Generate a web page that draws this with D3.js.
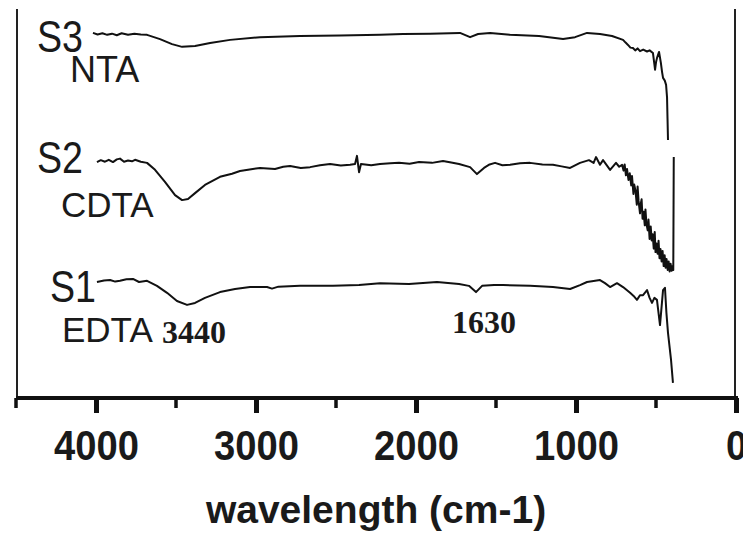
<!DOCTYPE html>
<html>

<head>
    <meta charset="utf-8">
    <style>
        body {
            margin: 0;
            background: #fff;
        }

        svg {
            display: block;
            overflow: hidden;
        }

        .lbl {
            font-family: Arial, 'Liberation Sans', sans-serif;
            fill: #1a1a1a;
        }

        .num {
            font-family: 'Times New Roman', 'Liberation Serif', serif;
            font-weight: bold;
            fill: #1a1a1a;
        }
    </style>
</head>

<body>
    <svg width="743" height="538"></svg>

    <script src="https://d3js.org/d3.v7.min.js"></script>

    <script>
        // wavenumber (cm-1), transmittance (a.u., offset stacked)
        let nta = [
            [4019, 94.1], [3990, 93.7], [3960, 94.0], [3930, 93.6], [3900, 93.9], [3870, 93.5],
            [3840, 94.0], [3800, 93.6], [3760, 93.9], [3720, 93.7], [3681, 93.6],
            [3600, 92.5], [3525, 91.2], [3462, 90.5], [3381, 90.7], [3287, 91.5], [3162, 92.3],
            [2975, 93.0], [2725, 93.3], [2475, 93.4], [2225, 93.6], [2081, 93.8], [1912, 93.9],
            [1725, 94.1], [1662, 93.0], [1612, 93.8], [1537, 94.1], [1412, 93.6], [1231, 93.3],
            [1081, 92.5], [1006, 93.0], [931, 94.1], [850, 93.8], [775, 93.3], [706, 92.3],
            [690, 91.6], [675, 91.0], [660, 90.3], [644, 90.2], [630, 89.6], [615, 90.1],
            [600, 89.4], [580, 89.8], [556, 89.3], [540, 89.6], [519, 88.9], [510, 86.0],
            [506, 84.6], [500, 86.5], [494, 87.6], [481, 89.2], [470, 86.5], [462, 84.0],
            [456, 82.5], [445, 81.8], [437, 80.7], [431, 77.5], [428, 72.0], [425, 66.5]
        ]

        let cdta = [
            [3994, 60.8], [3970, 61.3], [3944, 60.9], [3920, 61.4], [3894, 60.8], [3870, 61.5],
            [3850, 61.7], [3825, 60.9], [3800, 61.2], [3775, 61.0], [3756, 61.4], [3720, 60.9],
            [3681, 60.6], [3631, 58.8], [3569, 55.7], [3506, 52.3], [3462, 51.0], [3425, 51.3],
            [3381, 52.8], [3319, 54.9], [3225, 57.0], [3150, 57.8], [3100, 58.5], [3040, 58.9],
            [2975, 59.3], [2881, 59.0], [2830, 59.6], [2787, 59.8], [2720, 59.3], [2662, 59.5],
            [2600, 60.0], [2537, 60.3], [2470, 59.9], [2412, 60.1], [2381, 60.3], [2369, 62.4],
            [2356, 58.2], [2344, 60.3], [2280, 60.0], [2225, 60.3], [2160, 60.5], [2106, 60.6],
            [2040, 60.4], [1981, 60.8], [1900, 60.6], [1831, 61.1], [1780, 60.7], [1731, 60.3],
            [1662, 59.5], [1619, 57.7], [1575, 59.3], [1540, 60.2], [1506, 60.6], [1460, 60.0],
            [1412, 60.1], [1350, 60.5], [1287, 60.6], [1210, 60.2], [1144, 60.1], [1090, 59.7],
            [1037, 59.3], [975, 60.6], [919, 61.3], [890, 60.6], [875, 62.1], [850, 60.1],
            [831, 61.3], [787, 58.8], [750, 60.6], [730, 59.6], [712, 60.1], [703, 58.6],
            [696, 60.2], [688, 57.4], [681, 59.0], [672, 56.2], [664, 57.9], [655, 54.8],
            [650, 57.2], [641, 52.6], [636, 55.0], [628, 53.4], [620, 49.8], [615, 54.5],
            [609, 50.8], [600, 47.6], [596, 49.9], [590, 51.2], [584, 46.2], [578, 48.0],
            [570, 44.5], [566, 48.6], [560, 45.0], [552, 43.2], [547, 46.0], [540, 41.0],
            [533, 44.2], [527, 40.6], [521, 42.2], [514, 38.5], [508, 42.8], [503, 37.6],
            [497, 39.8], [490, 37.2], [484, 40.5], [478, 36.0], [472, 38.4], [465, 35.2],
            [459, 37.9], [452, 34.0], [446, 36.8], [440, 33.6], [434, 35.8], [427, 33.0],
            [421, 35.2], [415, 32.6], [409, 34.6], [402, 32.8], [396, 34.0], [392, 33.0],
            [389, 62.1]
        ]

        let edta = [
            [3994, 29.9], [3950, 30.3], [3912, 30.4], [3880, 30.0], [3850, 30.2], [3810, 30.6],
            [3769, 30.7], [3731, 29.9], [3681, 30.2], [3619, 28.9], [3556, 27.1], [3494, 25.0],
            [3431, 24.0], [3381, 24.5], [3319, 25.8], [3225, 27.3], [3131, 28.1], [3037, 28.6],
            [2931, 28.6], [2900, 28.2], [2860, 28.7], [2725, 28.9], [2519, 28.9], [2356, 29.1],
            [2225, 29.6], [2044, 29.4], [1869, 29.9], [1731, 29.4], [1669, 28.9], [1625, 27.3],
            [1587, 28.9], [1512, 29.1], [1456, 29.1], [1287, 28.9], [1144, 28.6], [1037, 28.1],
            [975, 29.1], [931, 29.9], [850, 30.4], [819, 29.6], [787, 28.6], [744, 29.6],
            [706, 28.6], [662, 27.1], [640, 26.3], [619, 25.3], [600, 26.5], [581, 26.5],
            [556, 27.8], [540, 25.8], [525, 24.5], [510, 25.8], [494, 25.3], [475, 18.8],
            [456, 27.8], [444, 28.4], [435, 22.0], [425, 16.8], [406, 9.8], [394, 3.9]
        ]

        let majorTicks = [4000, 3000, 2000, 1000, 0]
        let minorTicks = [4500, 3500, 2500, 1500, 500]

        let svg = d3.select("svg")

        let x = d3.scaleLinear()
            .domain([4500, 0])
            .range([16, 736])

        let y = d3.scaleLinear()
            .domain([0, 100])
            .range([398, 10])

        let line = d3.line()
            .x(d => x(d[0]))
            .y(d => y(d[1]))

        // frame sides (no top)
        svg.append("line")
            .attr("x1", 17).attr("x2", 17)
            .attr("y1", 9).attr("y2", 398)
            .attr("stroke", "#222")
            .attr("stroke-width", 2)

        svg.append("line")
            .attr("x1", 735).attr("x2", 735)
            .attr("y1", 9).attr("y2", 398)
            .attr("stroke", "#222")
            .attr("stroke-width", 2)

        // bottom axis
        let axis = svg.append("g")
            .attr("transform", "translate(0,398)")
            .call(d3.axisBottom(x)
                .tickValues(majorTicks)
                .tickSize(15)
                .tickFormat(d3.format("d")))

        axis.select(".domain")
            .attr("stroke", "#111")
            .attr("stroke-width", 4)
            .attr("d", "M16,0H738")

        axis.selectAll(".tick line")
            .attr("stroke", "#111")
            .attr("stroke-width", 5)

        // labels are a bit tall and narrow in the original
        axis.selectAll(".tick text")
            .attr("fill", "#1a1a1a")
            .attr("y", 31)
            .attr("dy", "0.71em")
            .attr("transform", "scale(0.955,1.05)")
            .style("font-family", "Arial, 'Liberation Sans', sans-serif")
            .style("font-weight", "bold")
            .style("font-size", "40px")

        axis.selectAll(".minor")
            .data(minorTicks)
            .join("line")
            .attr("x1", d => x(d)).attr("x2", d => x(d))
            .attr("y1", 0).attr("y2", 10)
            .attr("stroke", "#111")
            .attr("stroke-width", 3.5)

        svg.append("text")
            .attr("class", "lbl")
            .attr("x", 376)
            .attr("y", 523)
            .attr("text-anchor", "middle")
            .style("font-size", "39px")
            .style("font-weight", "bold")
            .text("wavelength (cm-1)")

        // spectra
        svg.selectAll(".spec")
            .data([nta, cdta, edta])
            .join("path")
            .attr("class", "spec")
            .attr("d", line)
            .attr("fill", "none")
            .attr("stroke", "#111")
            .attr("stroke-width", 2)
            .attr("stroke-linejoin", "round")

        // sample labels
        let labels = [
            { t: "S3", x: 37, y: 52, s: 40, sx: 0.94, sy: 1.1 },
            { t: "NTA", x: 70, y: 82, s: 36, sx: 1, sy: 1 },
            { t: "S2", x: 37, y: 173, s: 40, sx: 0.94, sy: 1.1 },
            { t: "CDTA", x: 61, y: 217, s: 35, sx: 1, sy: 1 },
            { t: "S1", x: 50, y: 302, s: 40, sx: 0.94, sy: 1.1 },
            { t: "EDTA", x: 62, y: 342, s: 35, sx: 1, sy: 1 }
        ]

        svg.selectAll(".lbl-s")
            .data(labels)
            .join("text")
            .attr("class", "lbl lbl-s")
            .attr("transform", d => `translate(${d.x},${d.y}) scale(${d.sx},${d.sy})`)
            .style("font-size", d => d.s + "px")
            .text(d => d.t)

        // peak annotations
        svg.append("text")
            .attr("class", "num")
            .attr("x", 162).attr("y", 343)
            .style("font-size", "32px")
            .text("3440")

        svg.append("text")
            .attr("class", "num")
            .attr("x", 452).attr("y", 333)
            .style("font-size", "32px")
            .text("1630")
    </script>
</body>

</html>
